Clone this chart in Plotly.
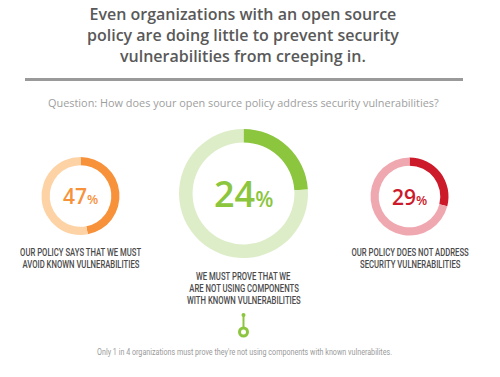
import plotly.graph_objects as go

# ---- data ----
title_lines = ["Even organizations with an open source",
               "policy are doing little to prevent security",
               "vulnerabilities from creeping in."]
question = "Question: How does your open source policy address security vulnerabilities?"
percents = [47, 24, 29]
labels = [["OUR POLICY SAYS THAT WE MUST", "AVOID KNOWN VULNERABILITIES"],
          ["WE MUST PROVE THAT WE", "ARE NOT USING COMPONENTS", "WITH KNOWN VULNERABILITIES"],
          ["OUR POLICY DOES NOT ADDRESS", "SECURITY VULNERABILITIES"]]
footnote = "Only 1 in 4 organizations must prove they're not using components with known vulnerabilites."

# ---- style ----
W, H = 500, 377
dark_cols = ["#f7923a", "#8cc63f", "#cc1a2b"]
light_cols = ["#fdd3a6", "#dcedc8", "#f0a8b0"]
centers = [(80.5, 196), (243.5, 193.5), (409.5, 196.5)]
radii = [39, 64.5, 39]
pct_sizes = [21, 36, 21]
sym_sizes = [13, 21, 13]
label_y = [252, 276, 252]
cond = "Roboto, sans-serif"

def px(x): return x / W
def py(y): return 1 - y / H

fig = go.Figure()
annotations = []
for i, p in enumerate(percents):
    cx, cy = centers[i]
    r = radii[i]
    fig.add_trace(go.Pie(
        values=[p, 100 - p], sort=False, direction="clockwise", rotation=0,
        hole=0.79, marker=dict(colors=[dark_cols[i], light_cols[i]], line=dict(width=0)),
        textinfo="none", hoverinfo="skip", showlegend=False,
        domain=dict(x=[px(cx - r), px(cx + r)], y=[py(cy + r), py(cy - r)])))
    annotations.append(dict(
        x=px(cx), y=py(cy), xref="paper", yref="paper", showarrow=False,
        text=f"{p}<span style='font-size:{sym_sizes[i]}px'>%</span>",
        font=dict(family="Open Sans, sans-serif", size=pct_sizes[i], color=dark_cols[i], weight=600),
        xanchor="center", yanchor="middle"))
    for j, line in enumerate(labels[i]):
        annotations.append(dict(
            x=px(cx), y=py(label_y[i] + 12 * j), xref="paper", yref="paper", showarrow=False,
            text=line, font=dict(family=cond, size=10, color="#4a4a4a", weight=500),
            xanchor="center", yanchor="middle"))

annotations.append(dict(
    x=px(243), y=py(35), xref="paper", yref="paper", showarrow=False,
    text="<br>".join(title_lines),
    font=dict(family="Open Sans, sans-serif", size=16, color="#595959", weight=600),
    xanchor="center", yanchor="middle", align="center"))

annotations.append(dict(
    x=px(243.5), y=py(103), xref="paper", yref="paper", showarrow=False,
    text=question, font=dict(family="Open Sans, sans-serif", size=10.9, color="#9e9e9e"),
    xanchor="center", yanchor="middle"))
annotations.append(dict(
    x=px(244), y=py(351), xref="paper", yref="paper", showarrow=False,
    text=footnote, font=dict(family=cond, size=9.3, color="#9a9a9a"),
    xanchor="center", yanchor="middle"))

shapes = [
    dict(type="line", xref="paper", yref="paper", x0=px(25), x1=px(463), y0=py(79.5), y1=py(79.5),
         line=dict(color="#9a9a9a", width=3)),
    dict(type="line", xref="paper", yref="paper", x0=px(243.5), x1=px(243.5), y0=py(315), y1=py(328),
         line=dict(color="#8cc63f", width=2)),
    dict(type="circle", xref="paper", yref="paper", x0=px(241.5), x1=px(245.5), y0=py(317), y1=py(313),
         fillcolor="#8cc63f", line=dict(width=0)),
    dict(type="circle", xref="paper", yref="paper", x0=px(239.5), x1=px(247.5), y0=py(336), y1=py(328),
         fillcolor="white", line=dict(color="#8cc63f", width=3)),
]

fig.update_layout(width=W, height=H, margin=dict(l=0, r=0, t=0, b=0),
                  paper_bgcolor="white", plot_bgcolor="white",
                  annotations=annotations, shapes=shapes)

# condense the Roboto caption texts horizontally (the original uses a condensed face)
post = """
document.body.style.margin='0';
var texts = document.querySelectorAll('text.annotation-text');
texts.forEach(function(t){
  var fam = (t.style.fontFamily || '');
  if (fam.indexOf('Roboto') >= 0) {
    var w = t.getComputedTextLength();
    t.setAttribute('textLength', (w * 0.77).toFixed(1));
    t.setAttribute('lengthAdjust', 'spacingAndGlyphs');
  }
});
"""
fig.write_html("out.html", post_script=post, config={"displayModeBar": False})
